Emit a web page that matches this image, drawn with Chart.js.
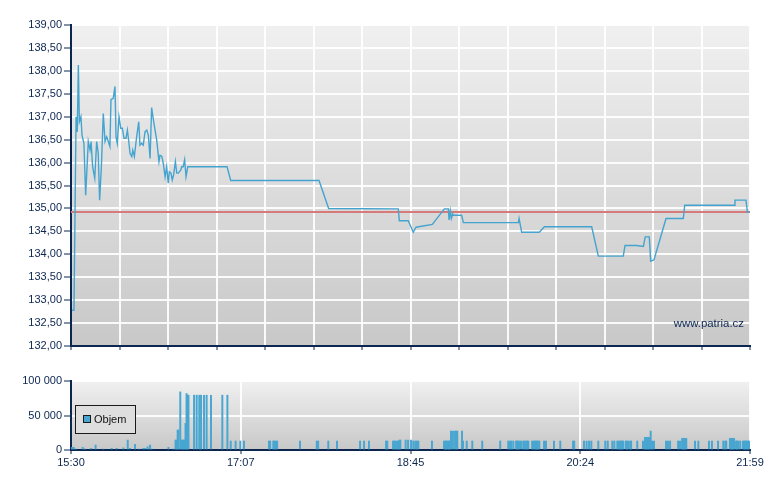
<!DOCTYPE html>
<html>
<head>
<meta charset="utf-8">
<script src="https://cdn.jsdelivr.net/npm/chart.js@4.4.1/dist/chart.umd.min.js"></script>
<style>
  body { margin: 0; background: #fff; }
  #wrap { position: relative; width: 780px; height: 490px; }
  canvas { position: absolute; left: 0; }
</style>
</head>
<body>
<div id="wrap">
  <canvas id="priceChart" width="780" height="360" style="top:0"></canvas>
  <canvas id="volChart" width="780" height="130" style="top:360px"></canvas>
</div>
<script>
// time is minutes after 15:30
const priceTimes = [0.6, 1.7, 2.9, 3.6, 4.2, 4.8, 5.7, 6.3, 7.4, 8.4, 9.9, 10.9, 11.5, 12.4, 13.6, 14.7, 15.6, 16.4, 17.4, 18.5,
  19.5, 20.4, 21.4, 22.3, 22.9, 24.2, 25.2, 25.8, 26.5, 27.5, 28.5, 29.4, 30.4, 31.5, 32.3, 33.1, 33.8, 34.8, 35.4, 36.3,
  37.6, 38.8, 39.5, 40.5, 41.4, 42.4, 43.4, 44.3, 45.3, 46.2, 47.2, 49.1, 50.4, 51.0, 52.0, 52.9, 53.9, 54.8, 55.7, 56.3,
  57.3, 58.0, 58.8, 59.8, 60.6, 61.5, 62.9, 63.4, 64.3, 65.1, 65.9, 66.9, 89.4, 91.5, 142.1, 147.6, 187.5, 188.1, 193.2, 196.1,
  197.7, 207.0, 213.9, 216.2, 216.6, 217.3, 217.9, 218.7, 219.1, 223.8, 224.8, 256.3, 256.7, 258.2, 268.3, 271.2, 298.3, 302.1,
  316.4, 317.4, 324.1, 327.9, 329.0, 331.3, 332.1, 334.0, 340.9, 350.8, 351.6, 380.0, 380.4, 386.7, 387.5, 389.0];
const prices = [132.78, 132.78, 137.00, 136.67, 138.13, 136.89, 137.00, 136.60, 136.42, 135.29, 136.46, 136.27, 136.46, 135.91, 135.66, 136.46, 136.20, 135.18, 135.91, 137.07,
  136.46, 136.56, 136.46, 136.35, 137.37, 137.40, 137.66, 136.56, 136.42, 137.00, 136.75, 136.75, 136.53, 136.53, 136.71, 136.46, 136.20, 136.13, 136.27, 136.13,
  136.56, 136.89, 136.38, 136.42, 136.38, 136.67, 136.71, 136.60, 136.09, 137.20, 136.93, 136.49, 136.02, 136.16, 136.14, 135.98, 135.69, 135.91, 135.55, 135.80,
  135.77, 135.62, 135.73, 136.02, 135.77, 135.77, 135.84, 135.91, 135.91, 136.06, 135.69, 135.91, 135.91, 135.61, 135.61, 135.00, 134.99, 134.73, 134.73, 134.48,
  134.59, 134.65, 134.99, 134.99, 134.75, 134.95, 134.78, 134.88, 134.85, 134.85, 134.69, 134.69, 134.78, 134.48, 134.48, 134.60, 134.60, 133.96,
  133.96, 134.19, 134.19, 134.17, 134.38, 134.38, 133.85, 133.88, 134.78, 134.78, 135.07, 135.07, 135.18, 135.18, 134.92, 134.92];
const prevClose = 134.92;

const volTimes = [0.6, 1.6, 2.7, 6.7, 8.0, 11.5, 14.1, 18.5, 23.3, 26.2, 30.0, 32.5, 33.8, 36.7, 39.0, 41.4, 42.4, 43.9, 45.3, 46.2,
  55.8, 58.6, 59.9, 60.4, 61.1, 61.6, 62.6, 63.3, 63.9, 64.5, 65.0, 65.6, 66.2, 66.7, 67.3, 70.5, 72.0, 73.5, 74.5, 76.2,
  77.7, 80.2, 86.7, 89.6, 91.5, 94.3, 97.0, 99.1, 113.4, 114.1, 115.9, 116.5, 117.4, 118.1, 131.2, 140.8, 141.6, 147.4, 152.4, 165.6,
  167.9, 170.7, 180.5, 181.2, 184.5, 185.2, 185.9, 186.8, 187.5, 188.2, 188.7, 191.7, 193.1, 194.8, 196.1, 197.2, 198.2, 199.0, 206.8, 213.7,
  214.3, 214.9, 215.4, 216.0, 216.6, 217.2, 217.7, 218.8, 220.0, 220.7, 221.3, 224.0, 224.6, 226.7, 229.9, 235.6, 245.9, 250.5, 251.5, 252.2,
  253.4, 255.0, 255.6, 256.2, 256.8, 257.8, 259.1, 259.7, 260.7, 261.3, 262.0, 264.2, 265.0, 265.8, 266.4, 267.0, 267.5, 268.3, 271.0, 272.1,
  276.7, 280.3, 287.6, 288.3, 293.9, 295.4, 296.8, 298.1, 302.1, 306.1, 307.5, 310.1, 311.3, 313.0, 313.6, 314.5, 315.1, 315.7, 316.3, 317.8,
  318.5, 319.1, 320.3, 320.9, 324.4, 327.7, 328.8, 329.4, 330.0, 330.6, 331.3, 332.1, 332.9, 334.0, 340.9, 342.0, 343.2, 347.8, 348.9, 350.1,
  350.7, 351.3, 351.9, 352.5, 357.5, 359.4, 365.5, 367.2, 370.7, 373.7, 374.8, 375.4, 377.5, 378.1, 378.7, 379.3, 379.9, 381.0, 381.6, 382.3,
  383.4, 385.0, 385.6, 386.2, 386.8, 387.4, 388.0, 388.6];
const volValues = [3800, 3800, 1400, 3800, 1400, 2400, 7200, 1400, 2400, 2400, 3000, 14400, 2400, 8200, 1400, 2400, 2400, 4800, 7200, 1400,
  3800, 1400, 14400, 14400, 28900, 28900, 84200, 14400, 14400, 14400, 14400, 38500, 81800, 79400, 79400, 79400, 79400, 79400, 79400, 79400,
  79400, 79400, 79400, 79400, 13000, 13000, 13000, 13000, 13000, 13000, 13000, 13000, 13000, 13000, 13000, 13000, 13000, 13000, 13000, 13000,
  13000, 13000, 13000, 13000, 13000, 13000, 13000, 13000, 13000, 14400, 14400, 14400, 14400, 14400, 13000, 13000, 13000, 13000, 13000, 13000,
  13000, 13000, 13000, 13000, 13000, 13000, 27400, 27400, 27400, 27400, 27400, 27400, 13000, 13000, 13000, 13000, 13000, 13000, 13000, 13000,
  13000, 13000, 13000, 13000, 13000, 13000, 13000, 13000, 13000, 13000, 13000, 13000, 13000, 13000, 13000, 13000, 13000, 13000, 13000, 13000,
  13000, 13000, 13000, 13000, 13000, 13000, 13000, 13000, 13000, 13000, 13000, 13000, 13000, 13000, 13000, 13000, 13000, 13000, 13000, 13000,
  13000, 13000, 13000, 13000, 13000, 13000, 18300, 18300, 18300, 18300, 18300, 27400, 13000, 13000, 13000, 13000, 13000, 13000, 13000, 16800,
  16800, 16800, 16800, 16800, 13000, 13000, 13000, 13000, 13000, 13000, 13000, 13000, 16800, 16800, 16800, 16800, 16800, 13000, 13000, 13000,
  13000, 13000, 13000, 13000, 13000, 13000, 13000, 13000];

const timeLabels = ['15:30', '17:07', '18:45', '20:24', '21:59'];
const spanMin = 389;

const NAVY = '#0b2650';
Chart.defaults.font.family = "'Liberation Sans', Arial, sans-serif";
Chart.defaults.font.size = 11;
Chart.defaults.color = NAVY;

const plotBg = {
  id: 'plotBg',
  beforeDraw(chart) {
    const { ctx, chartArea: a } = chart;
    const g = ctx.createLinearGradient(0, a.top, 0, a.bottom);
    g.addColorStop(0, '#f0f0f0');
    g.addColorStop(1, '#c8c8c8');
    ctx.save();
    ctx.fillStyle = g;
    ctx.fillRect(a.left, a.top, a.right - a.left, a.bottom - a.top);
    ctx.restore();
  }
};

const watermark = {
  id: 'watermark',
  afterDraw(chart) {
    const { ctx, chartArea: a } = chart;
    ctx.save();
    ctx.font = "11.4px 'Liberation Sans', Arial, sans-serif";
    ctx.fillStyle = NAVY;
    ctx.textAlign = 'right';
    ctx.textBaseline = 'middle';
    ctx.fillText('www.patria.cz', a.right - 6, a.bottom - 22);
    ctx.restore();
  }
};

const volLegend = {
  id: 'volLegend',
  afterDraw(chart) {
    const { ctx, chartArea: a } = chart;
    const x = a.left + 4, y = a.top + 24;
    ctx.save();
    ctx.fillStyle = '#dedede';
    ctx.fillRect(x, y, 60, 28);
    ctx.strokeStyle = '#1a1a1a';
    ctx.lineWidth = 1;
    ctx.strokeRect(x + 0.5, y + 0.5, 60, 28);
    ctx.fillStyle = '#48a6d1';
    ctx.fillRect(x + 8.5, y + 10.5, 7, 7);
    ctx.strokeRect(x + 8.5, y + 10.5, 7, 7);
    ctx.fillStyle = '#111';
    ctx.font = "11px 'Liberation Sans', Arial, sans-serif";
    ctx.textBaseline = 'middle';
    ctx.fillText('Objem', x + 19, y + 15);
    ctx.restore();
  }
};

const gridCommon = { color: 'rgba(255,255,255,0.9)', lineWidth: 2, tickColor: NAVY, tickWidth: 1 };
const borderCommon = { display: true, color: NAVY, width: 2 };

new Chart(document.getElementById('priceChart'), {
  type: 'line',
  data: {
    datasets: [{
      data: priceTimes.map((t, i) => ({ x: t, y: prices[i] })),
      borderColor: '#45a4cf',
      borderWidth: 1.4,
      pointRadius: 0,
      tension: 0,
      order: 0
    }, {
      data: [{ x: 0, y: prevClose }, { x: spanMin, y: prevClose }],
      borderColor: 'rgb(214,122,122)',
      borderWidth: 2,
      pointRadius: 0,
      order: 1
    }]
  },
  options: {
    responsive: false,
    animation: false,
    devicePixelRatio: 1,
    layout: { padding: { top: 25, right: 30, bottom: 0, left: 0 } },
    plugins: { legend: { display: false }, tooltip: { enabled: false } },
    scales: {
      x: {
        type: 'linear', min: 0, max: spanMin,
        grid: { ...gridCommon, tickLength: 4 },
        border: borderCommon,
        ticks: { display: false, autoSkip: false },
        afterBuildTicks(scale) {
          const t = [];
          for (let i = 0; i <= 14; i++) t.push({ value: i * spanMin / 14 });
          scale.ticks = t;
        },
        afterFit(scale) { scale.height = 14; }
      },
      y: {
        min: 132, max: 139,
        grid: { ...gridCommon, tickLength: 7 },
        border: borderCommon,
        ticks: { stepSize: 0.5, padding: 2, color: NAVY, callback: v => v.toFixed(2).replace('.', ',') },
        afterFit(scale) { scale.width = 71; }
      }
    }
  },
  plugins: [plotBg, watermark]
});

new Chart(document.getElementById('volChart'), {
  type: 'bar',
  data: {
    datasets: [{
      label: 'Objem',
      data: volTimes.map((t, i) => ({ x: t, y: volValues[i] })),
      backgroundColor: '#48a6d1',
      borderWidth: 0,
      barThickness: 1.3
    }]
  },
  options: {
    responsive: false,
    animation: false,
    devicePixelRatio: 1,
    layout: { padding: { top: 21, right: 30, bottom: 0, left: 0 } },
    plugins: { legend: { display: false }, tooltip: { enabled: false } },
    scales: {
      x: {
        type: 'linear', min: 0, max: spanMin, offset: false,
        grid: { ...gridCommon, offset: false, tickLength: 4 },
        border: borderCommon,
        ticks: { autoSkip: false, maxRotation: 0, padding: 2, color: NAVY, callback: (v, i) => timeLabels[i] },
        afterBuildTicks(scale) {
          scale.ticks = timeLabels.map((_, i) => ({ value: i * spanMin / (timeLabels.length - 1) }));
        },
        afterFit(scale) { scale.height = 40; }
      },
      y: {
        min: 0, max: 100000,
        grid: { ...gridCommon, tickLength: 7 },
        border: borderCommon,
        ticks: { stepSize: 50000, padding: 2, color: NAVY, callback: v => String(v).replace(/\B(?=(\d{3})+(?!\d))/g, ' ') },
        afterFit(scale) { scale.width = 71; }
      }
    }
  },
  plugins: [plotBg, volLegend]
});
</script>
</body>
</html>
